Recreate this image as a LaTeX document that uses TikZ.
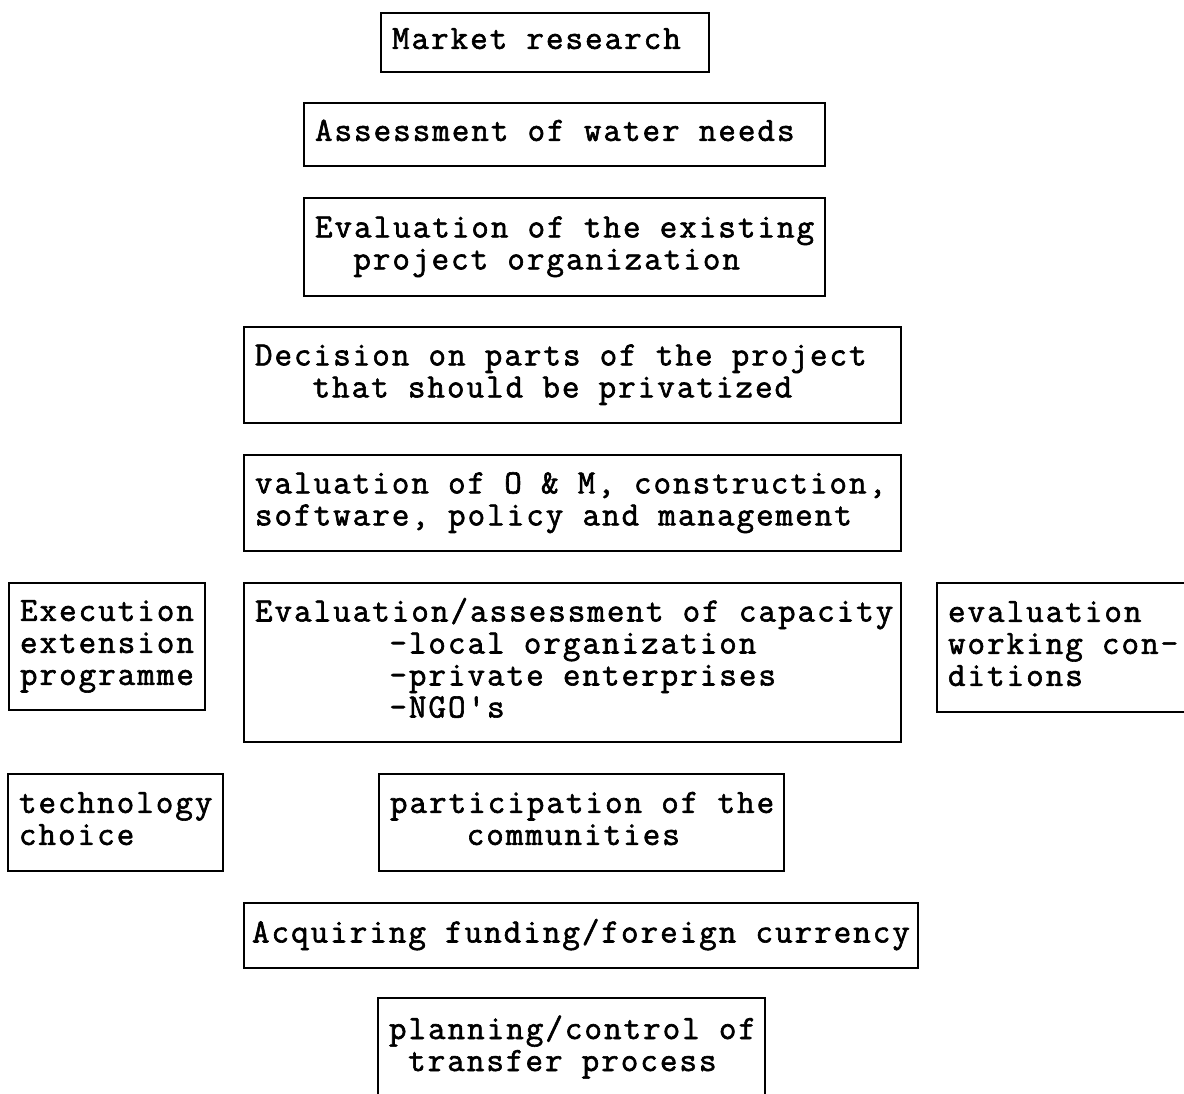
\documentclass[tikz,border=0pt]{standalone}
\usepackage{fontspec}
\setmonofont[FakeBold=1.8,LetterSpace=6]{Latin Modern Mono}
\newlength\chw
\setlength\chw{19.2pt}
\newcommand\monospacing{\spaceskip=\chw\relax\xspaceskip=\chw\relax}
\tikzset{
  box/.style={draw, line width=1.6pt, inner xsep=11pt, inner ysep=0pt,
    align=left, font=\ttfamily\fontsize{34}{32}\selectfont,
    execute at begin node=\monospacing},
}
\newcommand\lines[1]{\begin{tabular}{@{}l@{}}#1\end{tabular}}
\newcommand\ind[1]{\hspace*{#1\chw}}
\begin{document}
\begin{tikzpicture}[x=1pt,y=-1pt]
\useasboundingbox (0,0) rectangle (1184,1093);
\node[box, text width=306pt, minimum height=59pt] (market) at (545,42.5)
  {\lines{Market research}};
\node[box, text width=499pt, minimum height=63pt] (water) at (564.5,134.5)
  {\lines{Assessment of water needs}};
\node[box, text width=499pt, minimum height=98pt] (exist) at (564.5,247)
  {\lines{Evaluation of the existing\\\ind{2}project organization}};
\node[box, text width=635pt, minimum height=96pt] (decision) at (572.5,375)
  {\lines{Decision on parts of the project\\\ind{3}that should be privatized}};
\node[box, text width=635pt, minimum height=96pt] (valuation) at (572.5,503)
  {\lines{valuation of O \& M, construction,\\software, policy and management}};
\node[box, text width=635pt, minimum height=159pt] (capacity) at (572.5,662.5)
  {\lines{Evaluation/assessment of capacity\\\ind{7}-local organization\\\ind{7}-private enterprises\\\ind{7}-NGO's}};
\node[box, text width=174pt, minimum height=127pt] (execution) at (107,646.5)
  {\lines{Execution\\extension\\programme}};
\node[box, text width=231pt, minimum height=129pt] (working) at (1063.5,647.5)
  {\lines{evaluation\\working con-\\ditions}};
\node[box, text width=193pt, minimum height=97pt] (techno) at (115.5,822.5)
  {\lines{technology\\choice}};
\node[box, text width=383pt, minimum height=97pt] (partic) at (581.5,822.5)
  {\lines{participation of the\\\ind{4}communities}};
\node[box, inner xsep=8pt, text width=658pt, minimum height=65pt] (funding) at (581,935.5)
  {\lines{Acquiring funding/foreign currency}};
\node[box, text width=365pt, minimum height=100pt] (planning) at (571.5,1048)
  {\lines{planning/control of\\\ind{1}transfer process}};
\end{tikzpicture}
\end{document}
